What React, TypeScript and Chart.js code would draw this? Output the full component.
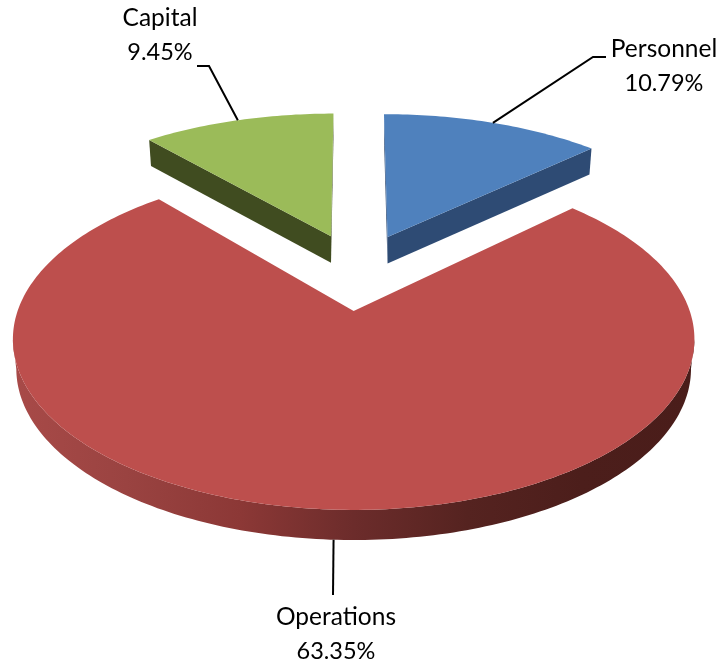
import React, { useEffect, useRef } from "react";
import { Chart, registerables } from "chart.js";

Chart.register(...registerables);

const categories = ["Personnel", "Operations", "Capital"];
const shares = [10.79, 63.35, 9.45];
const shareLabels = ["10.79%", "63.35%", "9.45%"];
const topColors = ["#4f81bd", "#bd4f4d", "#9bbb59"];
const wallStops: string[][] = [
  ["#2e4b74", "#2e4b74"],
  ["#a84a48", "#9a4341", "#8c3836", "#6c2c2b", "#552320", "#4c1e1b", "#4a1d1a"],
  ["#404c20", "#404c20"],
];

// Camera used to lay the flat pie down as a tilted disc.
const VIEW = {
  x: 357.5, y: 272.5, moveX: 304, moveY: 154, vanishX: 354, skew: 0.75,
  a: 326, b: 153.5, k: 0.165, depthKx: 0.12, depthKy: 0.154,
  wallScale: 0.99, wall: 27.9, wallK: 0.21,
};

// Label layout: text centre, baselines, leader elbow points.
const LABELS = [
  { cx: 664, y1: 57, y2: 91, elbow: [[593, 57], [606, 57]] },
  { cx: 336, y1: 625, y2: 659, elbow: [[333, 595]] },
  { cx: 160, y1: 26, y2: 60, elbow: [[209, 66], [197, 66]] },
];

type P = [number, number, number];

function frame(arc: any) {
  const R = arc.outerRadius;
  const e = (arc.options.offset || 0) / 4 / R;
  const mid = (arc.startAngle + arc.endAngle) / 2 + Math.PI / 2;
  const vc = e * Math.cos(mid);
  const cx = VIEW.x + VIEW.moveX * e * Math.sin(mid);
  const cy = VIEW.y - VIEW.moveY * vc;
  const A = VIEW.a / (1 + VIEW.depthKx * vc);
  const fy = 1 + VIEW.depthKy * vc;
  const B = VIEW.b / (fy * fy);
  const D = VIEW.wall * (1 - VIEW.wallK * vc);
  const project = (theta: number, r = 1): P => {
    const u = r * Math.sin(theta);
    const v = r * Math.cos(theta);
    const w = 1 + VIEW.k * v;
    const skew = (cx - VIEW.vanishX) * (1 / w - 1) * VIEW.skew;
    return [cx + (A * u) / w + skew, cy - (B * v) / w, w];
  };
  const drop = (p: P): P => [
    cx + (p[0] - cx) * VIEW.wallScale,
    cy + (p[1] - cy) * VIEW.wallScale + D / Math.sqrt(p[2]),
    p[2],
  ];
  return { cx, cy, mid, project, drop };
}

const pie3d = {
  id: "pie3d",
  beforeDatasetDraw(chart: any, args: any) {
    const ctx = chart.ctx as CanvasRenderingContext2D;
    const arcs = args.meta.data;
    arcs.forEach((arc: any, i: number) => {
      const { cx, cy, project, drop } = frame(arc);
      const t0 = arc.startAngle + Math.PI / 2;
      const t1 = arc.endAngle + Math.PI / 2;
      const n = Math.max(8, Math.ceil(((t1 - t0) * 180) / Math.PI));
      const path: P[] = [[cx, cy, 1]];
      for (let s = 0; s <= n; s++) path.push(project(t0 + ((t1 - t0) * s) / n));
      path.push([cx, cy, 1]);
      const g = ctx.createLinearGradient(13, 0, 695, 0);
      const stops = wallStops[i];
      stops.forEach((c, j) => g.addColorStop(j / (stops.length - 1), c));
      ctx.save();
      ctx.fillStyle = g;
      // Every run of rim points that moves leftwards faces the viewer.
      let run: P[] = [];
      const flush = () => {
        if (run.length > 1) {
          ctx.beginPath();
          run.forEach((p, s) => (s ? ctx.lineTo(p[0], p[1]) : ctx.moveTo(p[0], p[1])));
          [...run].reverse().forEach((p) => {
            const q = drop(p);
            ctx.lineTo(q[0], q[1]);
          });
          ctx.closePath();
          ctx.fill();
        }
        run = [];
      };
      for (let s = 0; s < path.length - 1; s++) {
        const a = path[s];
        const b = path[s + 1];
        if (b[0] < a[0]) {
          if (!run.length) run.push(a);
          run.push(b);
        } else flush();
      }
      flush();
      ctx.fillStyle = topColors[i];
      ctx.beginPath();
      path.forEach((p, s) => (s ? ctx.lineTo(p[0], p[1]) : ctx.moveTo(p[0], p[1])));
      ctx.closePath();
      ctx.fill();
      ctx.restore();
    });
    return false;
  },
  afterDatasetsDraw(chart: any) {
    const ctx = chart.ctx as CanvasRenderingContext2D;
    const arcs = chart.getDatasetMeta(0).data;
    const labels = chart.data.labels as string[];
    arcs.forEach((arc: any, i: number) => {
      const { project, drop, mid } = frame(arc);
      const rim = project(mid);
      const start = i === 1 ? drop(rim) : rim;
      const L = LABELS[i];
      ctx.save();
      ctx.strokeStyle = "#000000";
      ctx.lineWidth = 2;
      ctx.beginPath();
      ctx.moveTo(start[0], start[1]);
      L.elbow.forEach((p) => ctx.lineTo(p[0], p[1]));
      ctx.stroke();
      ctx.fillStyle = "#000000";
      ctx.textAlign = "center";
      ctx.textBaseline = "alphabetic";
      ctx.font = '24.5px Lato, "Open Sans", sans-serif';
      ctx.fillText(labels[i], L.cx, L.y1);
      ctx.font = '23.5px Lato, "Open Sans", sans-serif';
      ctx.fillText(shareLabels[i], L.cx, L.y2);
      ctx.restore();
    });
  },
};

export default function App() {
  const ref = useRef<HTMLCanvasElement>(null);
  useEffect(() => {
    if (!ref.current) return;
    const chart = new Chart(ref.current, {
      type: "pie",
      data: {
        labels: categories,
        datasets: [{ data: shares, backgroundColor: topColors, borderWidth: 0, offset: 222 }],
      },
      options: {
        animation: false,
        responsive: false,
        plugins: { legend: { display: false }, tooltip: { enabled: false } },
      },
      plugins: [pie3d],
    } as any);
    return () => chart.destroy();
  }, []);
  return (
    <canvas
      ref={ref}
      width={720}
      height={665}
      style={{ position: "absolute", left: 0, top: 0, width: 720, height: 665, display: "block" }}
    />
  );
}
